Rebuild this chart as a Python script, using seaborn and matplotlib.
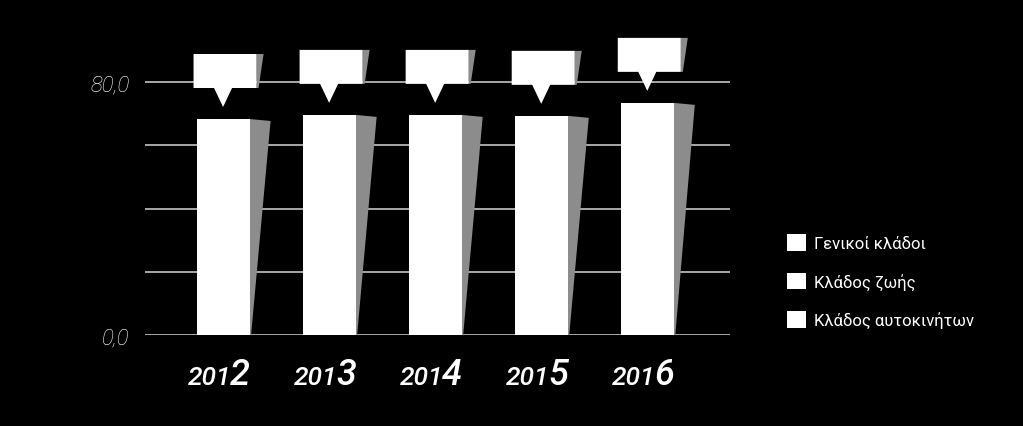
import matplotlib
matplotlib.use('Agg')
import matplotlib.pyplot as plt
import seaborn as sns
from matplotlib.patches import Polygon, Patch

# data
years = ['2012', '2013', '2014', '2015', '2016']
totals = [68.3, 69.6, 69.6, 69.3, 73.4]
series_names = ['Γενικοί κλάδοι', 'Κλάδος ζωής', 'Κλάδος αυτοκινήτων']
grid_ticks = [0, 20, 40, 60, 80]
grid_labels = ['0,0', '', '', '', '80,0']

sns.set_style('dark')
plt.rcParams['font.family'] = ['Roboto', 'DejaVu Sans']

W, H = 1023, 427
fig = plt.figure(figsize=(W / 100, H / 100), dpi=100, facecolor='black')
ax = fig.add_axes([145 / W, 91 / H, 585 / W, 336 / H])
ax.set_facecolor('black')

sns.barplot(x=years, y=totals, color='white', saturation=1, width=0.5,
            linewidth=0, ax=ax, zorder=3)

ax.set_xlim(-0.736, 4.78)
ax.set_ylim(0, 336 * 80 / 253)
ax.set_yticks(grid_ticks)
ax.set_yticklabels(grid_labels, color='white', fontsize=16, style='italic', weight='light')
ax.tick_params(axis='y', length=0, pad=11)
ax.tick_params(axis='x', length=0, labelbottom=False)
ax.yaxis.grid(True, color='#c4c4c4', lw=1.2)
ax.xaxis.grid(False)
ax.set_axisbelow(True)
ax.set_xlabel('')
ax.set_ylabel('')
for s in ax.spines.values():
    s.set_visible(False)

# pixel -> data units
px = 1 / 106
py = 80 / 253

bars = list(ax.patches)
for i, p in enumerate(bars):
    x0, w, h = p.get_x(), p.get_width(), p.get_height()
    xr = x0 + w
    xc = x0 + w / 2
    # bar shadow
    ax.add_patch(Polygon([(xr, h), (xr + 21 * px, h - 2 * py), (xr + 1.5 * px, 0), (xr, 0)],
                         closed=True, facecolor='#8c8c8c', edgecolor='none', zorder=2))
    # callout box above the bar
    bb = h + 31 * py
    bt = bb + 34 * py
    bl = x0 - 3 * px
    br = xr + 7 * px
    ax.add_patch(Polygon([(br, bt), (br + 7 * px, bt), (br + 2 * px, bb), (br, bb)],
                         closed=True, facecolor='#8c8c8c', edgecolor='none', zorder=3, clip_on=False))
    ax.add_patch(Polygon([(bl, bb), (xc - 9 * px, bb), (xc, h + 12 * py), (xc + 9 * px, bb),
                          (br, bb), (br, bt), (bl, bt)],
                         closed=True, facecolor='white', edgecolor='none', zorder=4, clip_on=False))
    # year label, last digit bigger
    yr = years[i]
    ax.text(xc + 8 * px, -49 * py, yr[:3], color='white', fontsize=19, style='italic',
            weight='medium', ha='right', va='baseline', clip_on=False)
    ax.text(xc + 7 * px, -49 * py, yr[3], color='white', fontsize=26, style='italic',
            weight='medium', ha='left', va='baseline', clip_on=False)

handles = [Patch(facecolor='white', edgecolor='none') for _ in series_names]
fig.legend(handles, series_names, loc='upper left', bbox_to_anchor=(787 / W, 1 - 235 / H),
           frameon=False, labelcolor='white', prop={'size': 12, 'weight': 'normal'},
           handlelength=1.15, handleheight=1.15, handletextpad=0.5, labelspacing=1.3,
           borderpad=0, borderaxespad=0)

fig.savefig('out.png', dpi=100, facecolor='black')
